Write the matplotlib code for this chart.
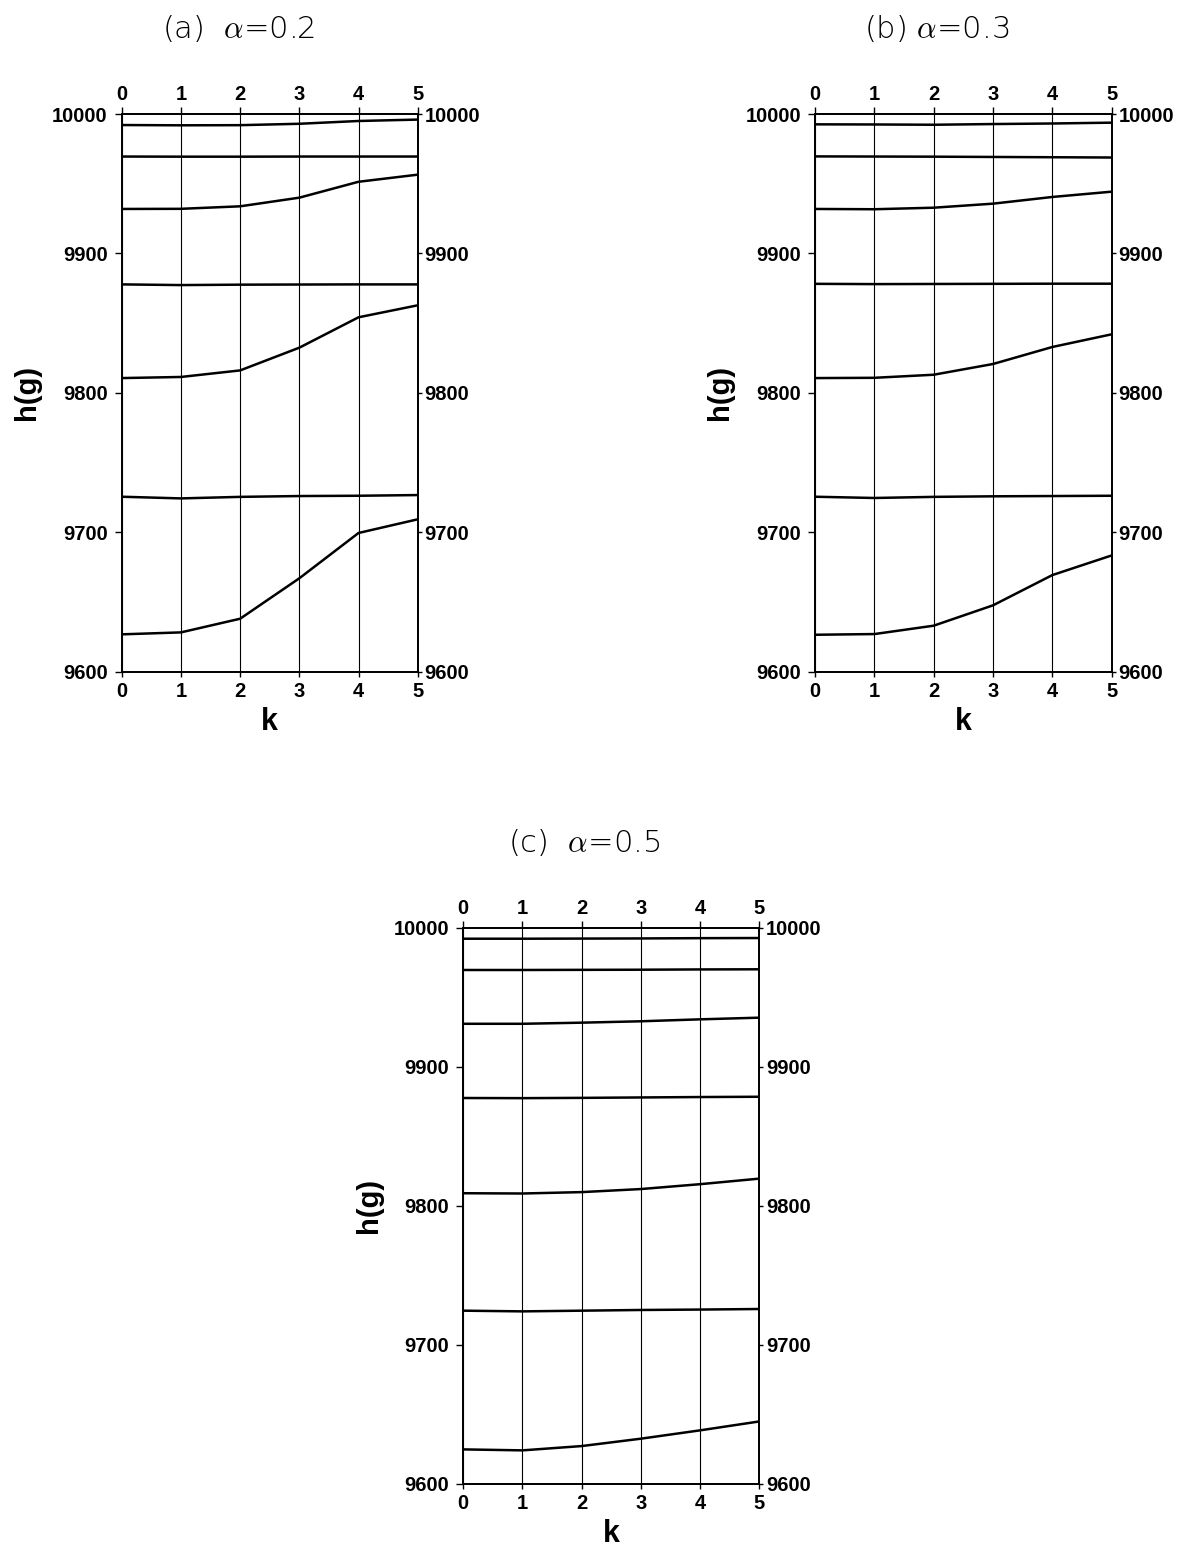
import numpy as np
import matplotlib.pyplot as plt

plt.rcParams['font.family'] = ['Liberation Sans', 'DejaVu Sans']
plt.rcParams['mathtext.fontset'] = 'cm'

# step index
k = [0, 1, 2, 3, 4, 5]
y_ticks = [9600, 9700, 9800, 9900, 10000]

# h(g) curves, top curve first
hg_a = [
    [9992.1, 9991.9, 9992.0, 9993.0, 9995.0, 9996.0],
    [9969.5, 9969.4, 9969.4, 9969.5, 9969.5, 9969.5],
    [9931.9, 9932.0, 9933.8, 9940.0, 9951.4, 9956.5],
    [9877.8, 9877.3, 9877.6, 9877.7, 9877.8, 9877.8],
    [9810.6, 9811.4, 9816.1, 9832.4, 9854.2, 9862.8],
    [9725.5, 9724.3, 9725.4, 9726.0, 9726.2, 9726.7],
    [9626.8, 9628.2, 9638.0, 9667.0, 9699.5, 9709.3],
]
hg_b = [
    [9992.6, 9992.5, 9992.3, 9992.8, 9993.2, 9993.8],
    [9969.6, 9969.5, 9969.4, 9969.2, 9969.0, 9968.8],
    [9931.9, 9931.7, 9932.8, 9935.7, 9940.5, 9944.3],
    [9878.2, 9878.0, 9878.1, 9878.2, 9878.3, 9878.3],
    [9810.6, 9810.8, 9813.0, 9820.7, 9832.9, 9842.0],
    [9725.5, 9724.6, 9725.4, 9725.8, 9726.0, 9726.2],
    [9626.5, 9627.0, 9633.0, 9647.6, 9669.3, 9683.4],
]
hg_c = [
    [9992.1, 9992.1, 9992.2, 9992.3, 9992.5, 9992.6],
    [9969.6, 9969.6, 9969.7, 9969.8, 9970.0, 9970.1],
    [9930.9, 9930.9, 9931.7, 9932.7, 9934.1, 9935.3],
    [9877.5, 9877.4, 9877.6, 9877.9, 9878.2, 9878.4],
    [9809.0, 9808.8, 9809.8, 9812.0, 9815.5, 9819.5],
    [9724.5, 9724.0, 9724.5, 9725.0, 9725.3, 9725.7],
    [9624.7, 9624.0, 9627.1, 9632.4, 9638.4, 9644.8],
]
titles = ['(a)  ', '(b) ', '(c)  ']
alphas = ['0.2', '0.3', '0.5']

fig = plt.figure(figsize=(11.83, 15.47), dpi=100)
tsize = 14.5


def boldify(labels):
    for t in labels:
        t.set_fontsize(tsize)
        t.set_fontweight('bold')


def panel(rect, curves, title, tx, ty):
    ax = fig.add_axes(rect)
    for c in curves:
        ax.plot(k, c, color='black', lw=1.8, solid_joinstyle='round')
    ax.set_xlim(0, 5)
    ax.set_ylim(9600, 10000)
    ax.set_xticks(k)
    ax.set_yticks(y_ticks)
    ax.grid(axis='x', color='black', lw=0.8)
    ax.tick_params(axis='y', direction='out', length=5, width=1, pad=5)
    ax.tick_params(axis='x', direction='out', length=3.6, width=1, pad=4)
    boldify(ax.get_xticklabels() + ax.get_yticklabels())
    for s in ax.spines.values():
        s.set_linewidth(1.1)
    ax.set_xlabel('k', fontsize=22, fontweight='bold', labelpad=4)
    ax.set_ylabel('h(g)', fontsize=21, fontweight='bold', labelpad=8)

    # right side labels
    axr = ax.twinx()
    axr.set_ylim(9600, 10000)
    axr.set_yticks(y_ticks)
    axr.tick_params(axis='y', direction='out', length=3, width=1, pad=2)
    boldify(axr.get_yticklabels())
    # top labels
    axt = ax.twiny()
    axt.set_xlim(0, 5)
    axt.set_xticks(k)
    axt.tick_params(axis='x', direction='out', length=5, width=1, pad=2)
    boldify(axt.get_xticklabels())
    for a in (axr, axt):
        for s in a.spines.values():
            s.set_linewidth(1.1)

    fig.text(tx, ty, title, fontsize=22, ha='center', va='center',
             family='DejaVu Sans', fontweight='light', color='black')


panel([0.1029, 0.5658, 0.2502, 0.3605], hg_a, titles[0] + r'$\alpha$=' + alphas[0], 0.2012, 0.9819)
panel([0.6889, 0.5658, 0.2508, 0.3605], hg_b, titles[1] + r'$\alpha$=' + alphas[1], 0.7920, 0.9819)
panel([0.3916, 0.0409, 0.2502, 0.3594], hg_c, titles[2] + r'$\alpha$=' + alphas[2], 0.4937, 0.4557)

plt.savefig('out.png', dpi=100)
